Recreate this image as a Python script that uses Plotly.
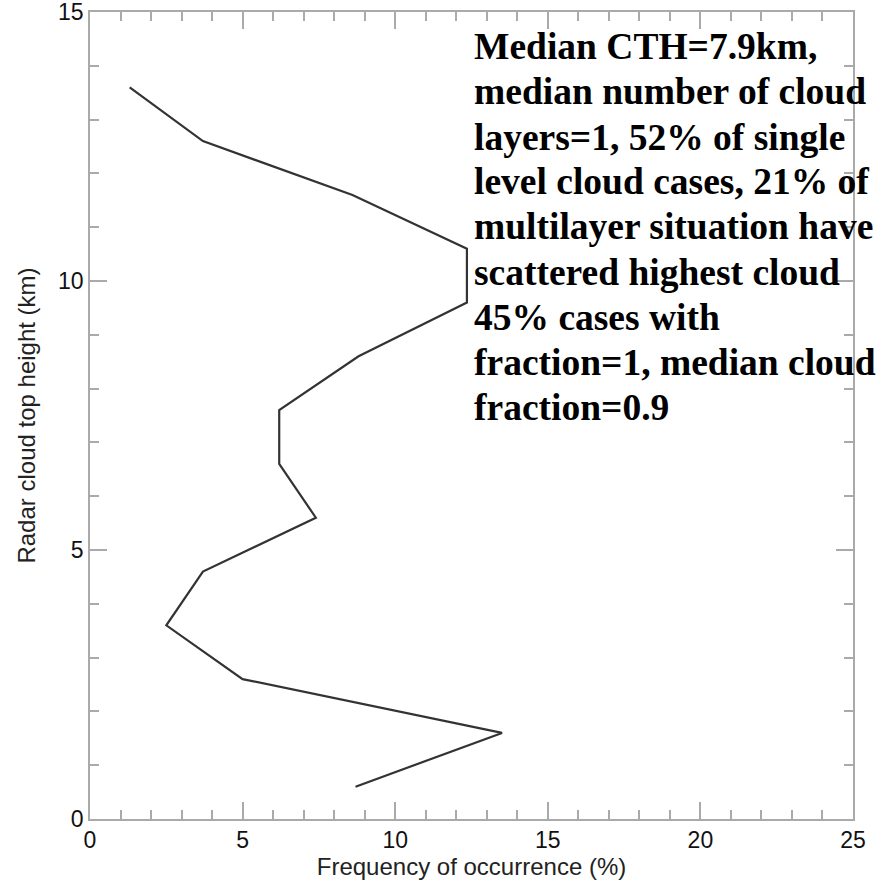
import plotly.graph_objects as go

# Data
height_km = [0.6, 1.6, 2.6, 3.6, 4.6, 5.6, 6.6, 7.6, 8.6, 9.6, 10.6, 11.6, 12.6, 13.6]
freq_pct = [8.7, 13.5, 5.0, 2.5, 3.7, 7.4, 6.2, 6.2, 8.8, 12.35, 12.35, 8.6, 3.7, 1.3]

x_ticks = [0, 5, 10, 15, 20, 25]
y_ticks = [0, 5, 10, 15]

note_lines = [
    "Median CTH=7.9km,",
    "median number of cloud",
    "layers=1, 52% of single",
    "level cloud cases, 21% of",
    "multilayer situation have",
    "scattered highest cloud",
    "45% cases with",
    "fraction=1, median cloud",
    "fraction=0.9",
]

W, H = 876, 883
ML, MR, MT, MB = 90, 23, 12, 64
plot_w = W - ML - MR
plot_h = H - MT - MB

fig = go.Figure()
fig.add_trace(go.Scatter(
    x=freq_pct, y=height_km, mode="lines",
    line=dict(color="#333333", width=2.2),
    showlegend=False, hoverinfo="skip", cliponaxis=False,
))

axis_common = dict(
    showgrid=False, zeroline=False, showline=True, linecolor="#aaaaaa", linewidth=1.5,
    mirror="ticks", ticks="inside", tickcolor="#aaaaaa", tickwidth=1.5, ticklen=17,
    tickfont=dict(family="Liberation Sans, Arial, sans-serif", size=23, color="#111111"),
    automargin=False, ticklabeloverflow="allow",
)

fig.update_xaxes(
    range=[0, 25], tickvals=x_ticks, ticktext=[str(v) for v in x_ticks],
    minor=dict(dtick=1, ticks="inside", ticklen=9, tickcolor="#aaaaaa", tickwidth=1.5, showgrid=False),
    title=dict(text="Frequency of occurrence (%)", standoff=0,
               font=dict(family="Liberation Sans, Arial, sans-serif", size=24, color="#222222")),
    **axis_common,
)
fig.update_yaxes(
    range=[0, 15], tickvals=y_ticks, ticktext=[str(v) for v in y_ticks],
    minor=dict(dtick=1, ticks="inside", ticklen=9, tickcolor="#aaaaaa", tickwidth=1.5, showgrid=False),
    title=dict(text="Radar cloud top height (km)", standoff=16,
               font=dict(family="Liberation Sans, Arial, sans-serif", size=24, color="#222222")),
    **axis_common,
)

for i, line in enumerate(note_lines):
    cy = 47 + 45 * i
    fig.add_annotation(
        x=(472 - ML) / plot_w, y=1 - (cy - MT) / plot_h,
        xref="paper", yref="paper", showarrow=False,
        text="<b>" + line + "</b>", align="left",
        xanchor="left", yanchor="middle",
        font=dict(family="Liberation Serif, Times New Roman, serif", size=37.5, color="#000000"),
    )

fig.update_layout(
    width=W, height=H,
    margin=dict(l=ML, r=MR, t=MT, b=MB, autoexpand=False),
    paper_bgcolor="white", plot_bgcolor="white",
)

fig.write_html("out.html")
